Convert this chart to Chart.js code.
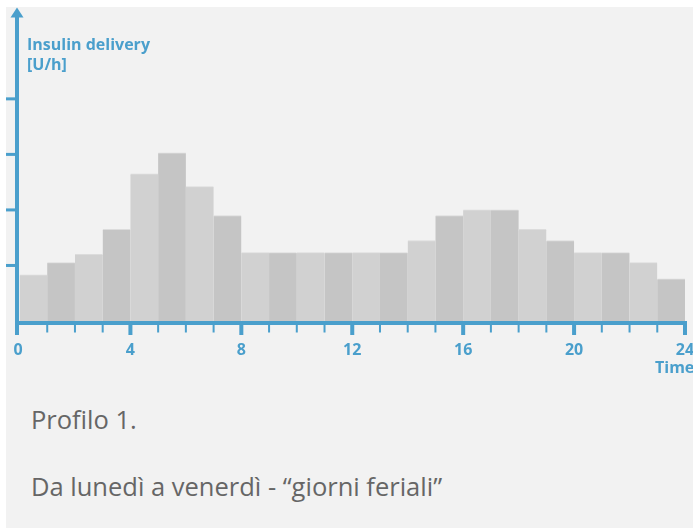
<!DOCTYPE html>
<html>
<head>
<meta charset="utf-8">
<script src="https://cdn.jsdelivr.net/npm/chart.js@4/dist/chart.umd.min.js"></script>
<style>
  html, body { margin: 0; padding: 0; background: #ffffff; }
  body { width: 693px; height: 530px; position: relative; overflow: hidden; }
  #panel { position: absolute; left: 6px; top: 7px; width: 687px; height: 521px; background: #f2f2f2; }
  #chart { position: absolute; left: 0; top: 0; }
  .cap { position: absolute; left: 31px; font-family: "Open Sans", sans-serif; font-size: 25.5px; line-height: 25.5px; color: #666666; white-space: nowrap; }
</style>
</head>
<body>
<div id="panel"></div>
<canvas id="chart" width="693" height="385"></canvas>
<div class="cap" id="cap1" style="top:406.5px">Profilo 1.</div>
<div class="cap" id="cap2" style="top:474px">Da lunedì a venerdì - “giorni feriali”</div>
<script>
// ---- data ----
const hourStarts = [0,1,2,3,4,5,6,7,8,9,10,11,12,13,14,15,16,17,18,19,20,21,22,23];
const deliveryUh = [0.83,1.05,1.2,1.65,2.65,3.03,2.42,1.9,1.23,1.23,1.23,1.23,1.23,1.23,1.45,1.9,2.0,2.0,1.65,1.45,1.23,1.23,1.05,0.76];
const xTickValues = [0,4,8,12,16,20,24];
const xTickLabels = ['0','4','8','12','16','20','24'];
const yTickValues = [1,2,3,4];
const yTitle = ['Insulin delivery','[U/h]'];
const xTitle = 'Time';

const BLUE = '#4a9fcc';
const LIGHT = '#d1d1d1';
const DARK = '#c5c5c5';

const axesPlugin = {
  id: 'axesPlugin',
  afterDatasetsDraw(chart) {
    const { ctx, chartArea: a, scales: { x, y } } = chart;
    const axisX = a.left - 2.5;
    ctx.save();
    ctx.fillStyle = BLUE;
    // y axis line
    ctx.fillRect(axisX - 2, 15, 4, a.bottom + 4 - 15);
    // arrow head
    ctx.beginPath();
    ctx.moveTo(axisX, 7.5);
    ctx.lineTo(axisX - 6.5, 17.5);
    ctx.lineTo(axisX + 6.5, 17.5);
    ctx.closePath();
    ctx.fill();
    // y ticks
    yTickValues.forEach(v => {
      const py = y.getPixelForValue(v);
      ctx.fillRect(6, py - 1.5, axisX - 2 - 6, 3);
    });
    // x axis line
    const xEnd = x.getPixelForValue(24) + 2;
    ctx.fillRect(axisX - 2, a.bottom, xEnd - (axisX - 2), 4);
    // x ticks (hourly minor, 4-hourly major)
    for (let h = 0; h <= 24; h++) {
      const major = xTickValues.includes(h);
      let cx = x.getPixelForValue(h);
      if (h === 0) cx = axisX;
      if (h === 24) cx = xEnd - 2;
      if (major) ctx.fillRect(cx - 2, a.bottom + 4, 4, 10);
      else ctx.fillRect(cx - 1, a.bottom + 4, 2, 7.5);
    }
    // tick labels
    ctx.font = 'bold 16px "Open Sans"';
    ctx.textAlign = 'center';
    ctx.textBaseline = 'alphabetic';
    xTickValues.forEach((v, i) => {
      let cx = x.getPixelForValue(v);
      if (v === 0) cx = axisX + 1;
      ctx.fillText(xTickLabels[i], cx, 355);
    });
    // axis titles
    ctx.textAlign = 'left';
    ctx.fillText(xTitle, 655, 373);
    ctx.font = 'bold 16px "Open Sans"';
    ctx.fillText(yTitle[0], 27, 50);
    ctx.fillText(yTitle[1], 27, 69.5);
    ctx.restore();
  }
};

new Chart(document.getElementById('chart'), {
  type: 'bar',
  data: {
    datasets: [{
      data: hourStarts.map((h, i) => ({ x: h + 0.5, y: deliveryUh[i] })),
      backgroundColor: hourStarts.map((h, i) => i % 2 === 0 ? LIGHT : DARK),
      borderColor: '#dcdcdc',
      borderWidth: { top: 1, left: 0, right: 0, bottom: 0 },
      borderSkipped: 'bottom',
      barPercentage: 1,
      categoryPercentage: 1
    }]
  },
  options: {
    responsive: false,
    devicePixelRatio: 1,
    animation: false,
    events: [],
    layout: { padding: { left: 19.5, right: 8, top: 10, bottom: 64 } },
    plugins: { legend: { display: false }, tooltip: { enabled: false } },
    scales: {
      x: { type: 'linear', min: 0, max: 24, display: false, offset: false },
      y: { min: 0, max: 5.6, display: false }
    }
  },
  plugins: [axesPlugin]
});
</script>
</body>
</html>
